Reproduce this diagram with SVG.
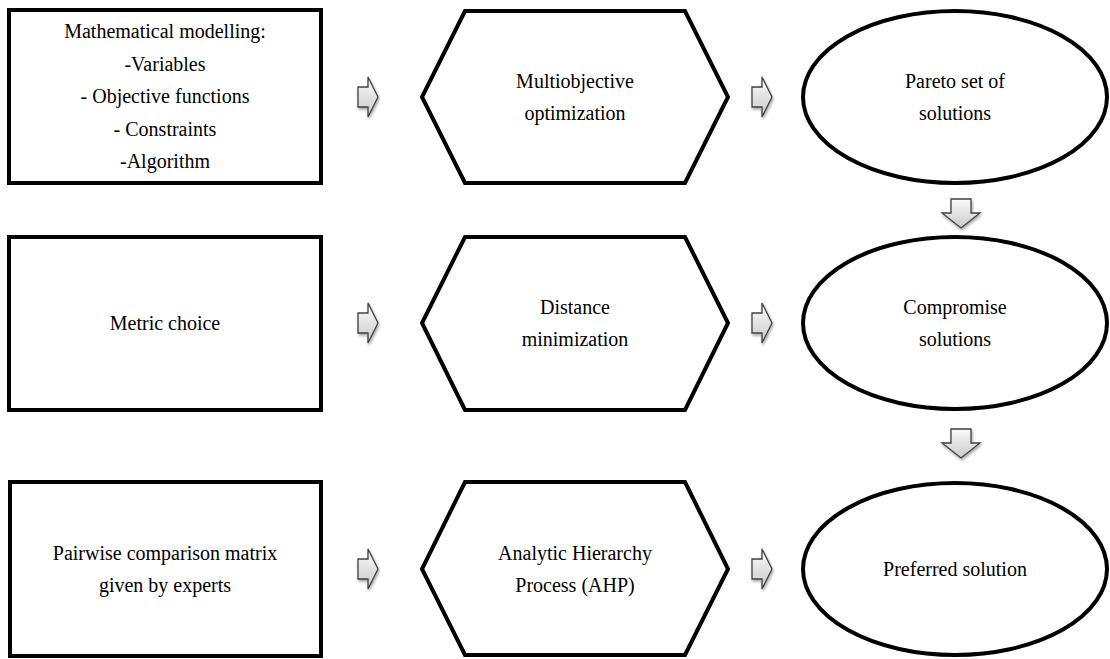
<svg xmlns="http://www.w3.org/2000/svg" width="1110" height="659" viewBox="0 0 1110 659">
<style>
.box{fill:#fff;stroke:#000;stroke-width:4}
.t{font-family:'Liberation Serif','Times New Roman',serif;font-size:20px;fill:#000;text-anchor:middle}
.arr{fill:url(#ag);stroke:#404040;stroke-width:1.3;filter:url(#sh)}
</style>
<defs>
<linearGradient id="ag" x1="0" y1="0" x2="0" y2="1">
<stop offset="0" stop-color="#fbfbfb"/>
<stop offset="1" stop-color="#c9c9c9"/>
</linearGradient>
<filter id="sh" x="-50%" y="-50%" width="200%" height="200%">
<feGaussianBlur in="SourceAlpha" stdDeviation="1.5"/>
<feOffset dx="1" dy="2" result="b"/>
<feComponentTransfer><feFuncA type="linear" slope="0.35"/></feComponentTransfer>
<feMerge><feMergeNode/><feMergeNode in="SourceGraphic"/></feMerge>
</filter>
<path id="ra" d="M-10,-10 H0 V-20 L10,0 L0,20 V10 H-10 Z"/>
<path id="da" d="M-10,-14 H10 V0 H19 L0,15 L-19,0 H-10 Z"/>
</defs>

<g id="n1">
<rect class="box" x="9" y="10" width="312" height="173"/>
<text class="t" x="165" y="38">Mathematical  modelling:</text>
<text class="t" x="165" y="71">-Variables</text>
<text class="t" x="165" y="103">- Objective functions</text>
<text class="t" x="165" y="136">- Constraints</text>
<text class="t" x="165" y="168">-Algorithm</text>
</g>
<g id="n2">
<polygon class="box" points="465,11 685,11 728,97 685,183 465,183 422,97"/>
<text class="t" x="575" y="88">Multiobjective</text>
<text class="t" x="575" y="120">optimization</text>
</g>
<g id="n3">
<ellipse class="box" cx="955" cy="97" rx="152" ry="86"/>
<text class="t" x="955" y="88">Pareto set of</text>
<text class="t" x="955" y="120">solutions</text>
</g>

<g id="n4">
<rect class="box" x="9" y="237" width="312" height="173"/>
<text class="t" x="165" y="330">Metric choice</text>
</g>
<g id="n5">
<polygon class="box" points="465,237 685,237 728,323 685,410 465,410 422,323"/>
<text class="t" x="575" y="314">Distance</text>
<text class="t" x="575" y="346">minimization</text>
</g>
<g id="n6">
<ellipse class="box" cx="955" cy="323" rx="152" ry="86"/>
<text class="t" x="955" y="314">Compromise</text>
<text class="t" x="955" y="346">solutions</text>
</g>

<g id="n7">
<rect class="box" x="10" y="482" width="311" height="174"/>
<text class="t" x="165" y="560">Pairwise comparison matrix</text>
<text class="t" x="165" y="592">given  by experts</text>
</g>
<g id="n8">
<polygon class="box" points="465,482 685,482 728,569 685,655 465,655 422,569"/>
<text class="t" x="575" y="560">Analytic Hierarchy</text>
<text class="t" x="575" y="592">Process (AHP)</text>
</g>
<g id="n9">
<ellipse class="box" cx="955" cy="569" rx="152" ry="86"/>
<text class="t" x="955" y="576">Preferred solution</text>
</g>

<g id="connectors">
<use href="#ra" class="arr" x="368" y="97"/>
<use href="#ra" class="arr" x="762" y="97"/>
<use href="#ra" class="arr" x="368" y="323"/>
<use href="#ra" class="arr" x="762" y="323"/>
<use href="#ra" class="arr" x="368" y="569"/>
<use href="#ra" class="arr" x="762" y="569"/>
<use href="#da" class="arr" x="961" y="213"/>
<use href="#da" class="arr" x="961" y="443"/>
</g>
</svg>
